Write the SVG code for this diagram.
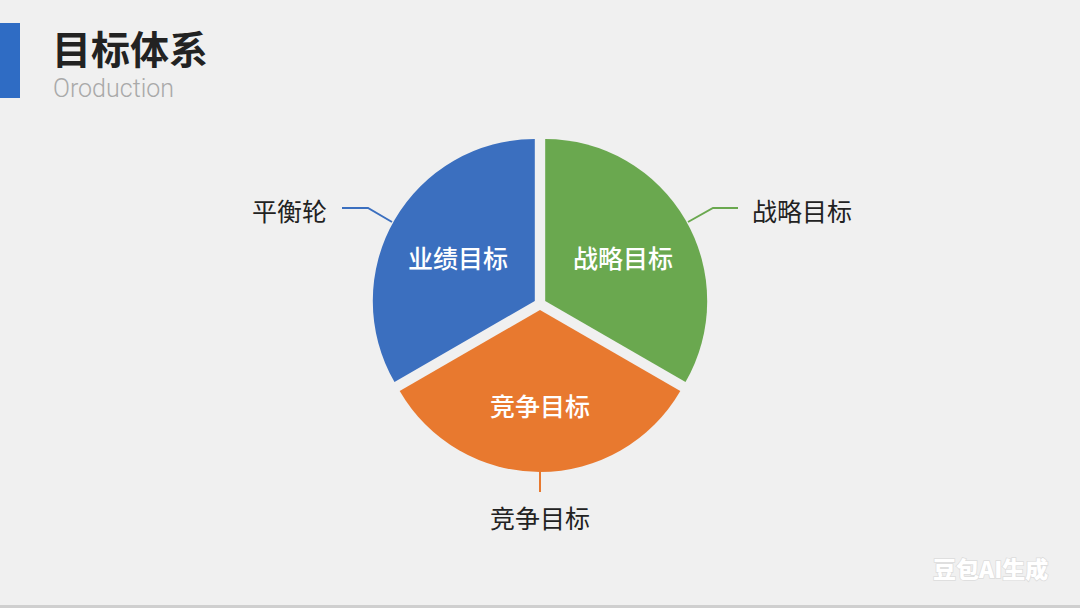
<svg xmlns="http://www.w3.org/2000/svg" width="1080" height="608" viewBox="0 0 1080 608">
<style>
.cjk{font-family:"Noto Sans CJK SC","Noto Sans",sans-serif;}
.in{fill:#ffffff;font-size:25px;font-weight:500;text-anchor:middle;dominant-baseline:central;}
.out{fill:#222222;font-size:25px;font-weight:400;dominant-baseline:central;}
.conn{fill:none;stroke-width:2;}
</style>
<rect x="0" y="0" width="1080" height="608" fill="#f0f0f0"/>
<rect x="0" y="605" width="1080" height="3" fill="#cfcfcf"/>
<g id="title">
<rect x="0" y="23" width="20" height="75" fill="#2f6cc4"/>
<text class="cjk" x="52" y="47" font-size="39" font-weight="700" fill="#222222" dominant-baseline="central">目标体系</text>
<text x="53" y="97" font-family="Roboto,'Liberation Sans',sans-serif" font-weight="300" font-size="25" fill="#a9a9a9">Oroduction</text>
</g>
<g id="node-blue">
<path d="M534.8,301 L534.8,139 A162,162 0 0 0 394.5,382 Z" fill="#3b6fbf"/>
<text class="cjk in" x="458" y="257">业绩目标</text>
</g>
<g id="node-green">
<path d="M545.2,301 L545.2,139 A162,162 0 0 1 685.5,382 Z" fill="#6aa84f"/>
<text class="cjk in" x="623" y="257">战略目标</text>
</g>
<g id="node-orange">
<path d="M540,310 L399.7,391 A162,162 0 0 0 680.3,391 Z" fill="#e8792f"/>
<text class="cjk in" x="540" y="405">竞争目标</text>
</g>
<g id="connectors">
<polyline class="conn" points="342,208 368,208 392,222" stroke="#3b6fbf"/>
<polyline class="conn" points="688,222 713,208 738,208" stroke="#6aa84f"/>
<line class="conn" x1="540" y1="470" x2="540" y2="492" stroke="#e8792f"/>
</g>
<g id="label-left"><text class="cjk out" x="252" y="210">平衡轮</text></g>
<g id="label-right"><text class="cjk out" x="752" y="210">战略目标</text></g>
<g id="label-bottom"><text class="cjk out" x="540" y="517" text-anchor="middle">竞争目标</text></g>
<g id="watermark"><text class="cjk" x="933" y="568" font-size="23" font-weight="900" fill="#ffffff" stroke="#dcdcdc" stroke-width="1.5" paint-order="stroke" dominant-baseline="central">豆包AI生成</text></g>
</svg>
